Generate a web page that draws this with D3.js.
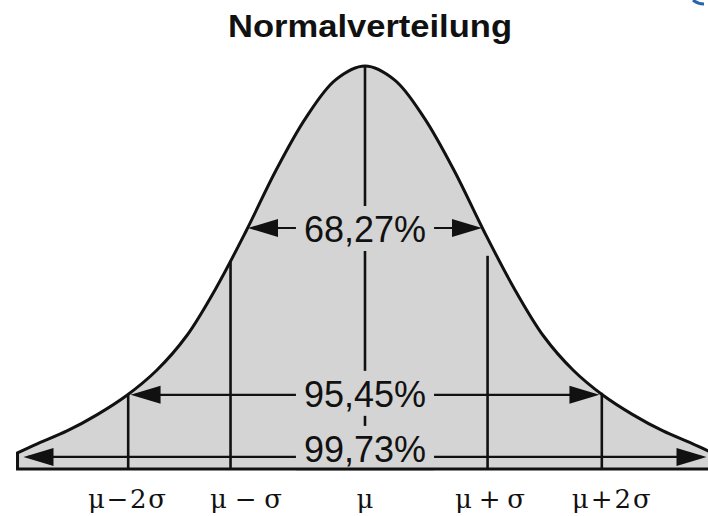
<!DOCTYPE html>
<html>
<head>
<meta charset="utf-8">
<script src="https://cdn.jsdelivr.net/npm/d3@7/dist/d3.min.js"></script>
<style>
  html, body { margin: 0; padding: 0; background: #fff; }
  svg { display: block; }
</style>
</head>
<body>
<script>
// ---- data ----
const title = "Normalverteilung";
// curve samples: position in sigma units, relative height (peak = 1)
const curveZ = [-2.92, -2.75, -2.5, -2.25, -2, -1.75, -1.5, -1.25, -1, -0.75, -0.5, -0.25, 0,
                 0.25, 0.5, 0.75, 1, 1.25, 1.5, 1.75, 2, 2.25, 2.5, 2.75, 2.92];
const curveH = [0.04, 0.063, 0.095, 0.135, 0.183, 0.245, 0.33, 0.45, 0.59, 0.74, 0.87, 0.965, 1.0,
                0.965, 0.87, 0.74, 0.59, 0.45, 0.33, 0.245, 0.183, 0.135, 0.095, 0.063, 0.04];
// vertical marker lines
const lineZ = [-1.99, -1.13, 0, 1.03, 1.99];
const lineTopH = [0.185, 0.514, 1.0, 0.529, 0.189];
// axis labels
const tickLabels = ["μ−2σ", "μ−σ", "μ", "μ+σ", "μ+2σ"];
const tickZ = [-2.0, -1.0, 0, 1.05, 2.07];
// intervals
const intervalLabels = ["68,27%", "95,45%", "99,73%"];
const intervalHalfZ = [0.983, 1.97, 2.87];
const intervalH = [0.598, 0.184, 0.03];

// ---- layout ----
const W = 708, H = 516;
const baseY = 469, peakY = 66;
const muX = 365, sigmaPx = 119;
const fillCol = "#d4d4d4", ink = "#111";

const x = d3.scaleLinear().domain([0, 1]).range([muX, muX + sigmaPx]);
const y = d3.scaleLinear().domain([0, 1]).range([baseY, peakY]);

const svg = d3.select("body").append("svg")
  .attr("width", W).attr("height", H)
  .style("background", "#fff");

// title
svg.append("text")
  .attr("x", 228).attr("y", 37)
  .attr("textLength", 284).attr("lengthAdjust", "spacingAndGlyphs")
  .style("font-family", "'Liberation Sans', Arial, sans-serif")
  .style("font-weight", "bold").style("font-size", "31px")
  .attr("fill", ink)
  .text(title);

// small blue mark (cropped logo) at top right
svg.append("path").attr("d", "M693,0 Q698,4 704,4")
  .attr("fill", "none").attr("stroke", "#2a64b0").attr("stroke-width", 3);

const pts = curveZ.map((z, i) => [z, curveH[i]]);
const area = d3.area()
  .x(d => x(d[0])).y0(baseY).y1(d => y(d[1]))
  .curve(d3.curveCatmullRom.alpha(0.5));

// fill
svg.append("path").datum(pts).attr("d", area)
  .attr("fill", fillCol).attr("stroke", "none");

// vertical lines
svg.append("g").selectAll("line").data(lineZ).join("line")
  .attr("x1", d => x(d)).attr("x2", d => x(d))
  .attr("y1", (d, i) => y(lineTopH[i])).attr("y2", baseY)
  .attr("stroke", ink).attr("stroke-width", 2.6);

// interval arrows
const textOffset = [14, 12, 5];
const gArr = svg.append("g");
intervalLabels.forEach((lab, i) => {
  const yy = y(intervalH[i]);
  const xl = x(-intervalHalfZ[i]), xr = x(intervalHalfZ[i]);
  gArr.append("line").attr("x1", xl + 5).attr("x2", xr - 5)
    .attr("y1", yy).attr("y2", yy)
    .attr("stroke", ink).attr("stroke-width", 2.2);
  const al = 30, aw = 9;
  gArr.append("path").attr("d", `M${xl},${yy} L${xl + al},${yy - aw} L${xl + al},${yy + aw} Z`).attr("fill", ink);
  gArr.append("path").attr("d", `M${xr},${yy} L${xr - al},${yy - aw} L${xr - al},${yy + aw} Z`).attr("fill", ink);
  const t = gArr.append("text")
    .attr("x", x(0)).attr("y", yy + textOffset[i])
    .attr("text-anchor", "middle")
    .style("font-family", "'Liberation Sans', Arial, sans-serif")
    .style("font-size", "36px")
    .attr("fill", ink)
    .text(lab);
  const bb = t.node().getBBox();
  gArr.insert("rect", () => t.node())
    .attr("x", bb.x - 8).attr("y", bb.y - 3)
    .attr("width", bb.width + 16).attr("height", bb.height + 4)
    .attr("fill", fillCol);
});

// outline (curve + strip)
svg.append("path").datum(pts).attr("d", area)
  .attr("fill", "none").attr("stroke", ink).attr("stroke-width", 3)
  .attr("stroke-linejoin", "miter");

// tick labels
const labW = [78, 72, null, 70, 79];
svg.append("g").selectAll("text").data(tickLabels).join("text")
  .attr("x", (d, i) => x(tickZ[i]))
  .attr("y", 508)
  .attr("text-anchor", "middle")
  .each(function(d, i) {
    if (labW[i]) d3.select(this).attr("textLength", labW[i]).attr("lengthAdjust", "spacing");
  })
  .style("font-family", "'DejaVu Serif', 'Liberation Serif', serif")
  .style("font-size", "26px")
  .attr("fill", ink)
  .text(d => d);
</script>
</body>
</html>
